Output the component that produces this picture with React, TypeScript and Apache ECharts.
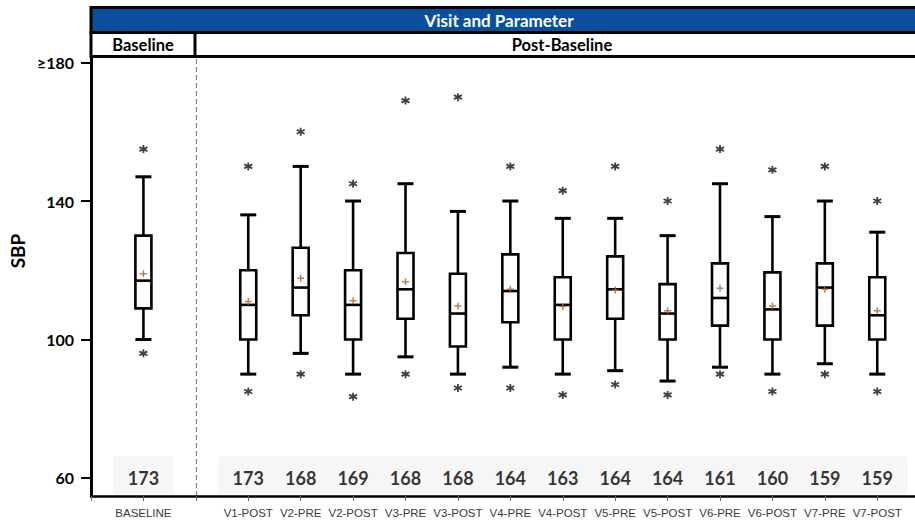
import React, { useEffect, useRef } from "react";
import * as echarts from "echarts";

const visits = ["BASELINE", "V1-POST", "V2-PRE", "V2-POST", "V3-PRE", "V3-POST", "V4-PRE", "V4-POST", "V5-PRE", "V5-POST", "V6-PRE", "V6-POST", "V7-PRE", "V7-POST"];
const whiskerLow = [100, 90, 96, 90, 95, 90, 92, 90, 91, 88, 92, 90, 93, 90];
const q1 = [109, 100, 107, 100, 106, 98, 105, 100, 106, 100, 104, 100, 104, 100];
const median = [117, 110, 115, 110, 114.5, 107.5, 114, 110, 114.5, 107.5, 112, 108.7, 115, 107];
const q3 = [130, 120, 126.5, 120, 125, 119, 124.6, 118, 124, 116, 122, 119.4, 122, 118];
const whiskerHigh = [147, 136, 150, 140, 145, 137, 140, 135, 135, 130, 145, 135.5, 140, 131];
const means = [119, 111, 117.7, 111.2, 116.7, 109.7, 114.5, 109.5, 114.3, 108.3, 114.8, 109.7, 114.5, 108.3];
const outHigh = [155, 150, 160, 145, 169, 170, 150, 143, 150, 140, 155, 149, 150, 140];
const outLow = [96, 85, 90, 83.5, 90, 86, 86, 84, 87, 84, 90, 85, 90, 85];
const counts = [173, 173, 168, 169, 168, 168, 164, 163, 164, 164, 161, 160, 159, 159];
const yTicks = [60, 100, 140, 180];
const yTickLabels = ["60", "100", "140", "\u2265180"];

// slot on the x scale: baseline at 1, an empty slot at 2 (separator), post-baseline visits from 3
const slotOf = (i: number) => (i === 0 ? 1 : i + 2);

const Y_MIN = 54.8;
const Y_MAX = 181.6;
const X_MAX = 15.72;

export default function App() {
  const ref = useRef<HTMLDivElement>(null);
  useEffect(() => {
    if (!ref.current) return;
    const chart = echarts.init(ref.current, null, { renderer: "svg" });
    const FONT = "Lato, 'Open Sans', sans-serif";

    const boxData = visits.map((_, i) => [slotOf(i), whiskerLow[i], q1[i], median[i], q3[i], whiskerHigh[i]]);
    const outData: number[][] = [];
    visits.forEach((_, i) => {
      outData.push([slotOf(i), outHigh[i]]);
      outData.push([slotOf(i), outLow[i]]);
    });
    const meanData = visits.map((_, i) => [slotOf(i), means[i]]);
    const countData = visits.map((_, i) => [slotOf(i), 60, counts[i]]);
    const labelMap: Record<number, string> = {};
    visits.forEach((v, i) => (labelMap[slotOf(i)] = v));

    const option: any = {
      animation: false,
      grid: { left: 91, top: 57, width: 824, height: 439, containLabel: false },
      xAxis: {
        type: "value",
        min: 0,
        max: X_MAX,
        z: 10,
        axisLine: { show: true, lineStyle: { color: "#000", width: 2.5 } },
        axisTick: { show: true, length: 5, lineStyle: { color: "#666", width: 1 }, customValues: Array.from({ length: 16 }, (_, k) => k) },
        axisLabel: {
          show: true,
          customValues: visits.map((_, i) => slotOf(i)),
          formatter: (v: number) => labelMap[Math.round(v)] || "",
          fontFamily: "'Liberation Sans', Arial, sans-serif",
          fontSize: 11.5,
          color: "#3a3a3a",
          margin: 11,
        },
        splitLine: { show: false },
      },
      yAxis: {
        type: "value",
        min: Y_MIN,
        max: Y_MAX,
        z: 10,
        axisLine: { show: true, lineStyle: { color: "#000", width: 3 } },
        axisTick: { show: true, length: 10, lineStyle: { color: "#000", width: 2 }, customValues: yTicks },
        axisLabel: {
          show: true,
          customValues: yTicks,
          formatter: (v: number) => yTickLabels[yTicks.indexOf(v)] ?? "",
          fontFamily: FONT,
          fontWeight: "bold",
          fontSize: 16,
          color: "#000",
          margin: 17,
        },
        splitLine: { show: false },
      },
      graphic: [
        { type: "rect", shape: { x: 91, y: 7.5, width: 850, height: 25 }, style: { fill: "#0a4f9c", stroke: "#000", lineWidth: 3 }, z: 10 },
        { type: "rect", shape: { x: 91, y: 32.5, width: 850, height: 24 }, style: { fill: "#fff", stroke: "#000", lineWidth: 3 }, z: 10 },
        { type: "line", shape: { x1: 195, y1: 32.5, x2: 195, y2: 56.5 }, style: { stroke: "#000", lineWidth: 3 }, z: 11 },
        { type: "text", x: 499, y: 20.5, style: { text: "Visit and Parameter", fill: "#fff", font: `bold 17px ${FONT}`, textAlign: "center", textVerticalAlign: "middle" }, z: 12 },
        { type: "text", x: 143, y: 45, style: { text: "Baseline", fill: "#000", font: `bold 16.5px ${FONT}`, textAlign: "center", textVerticalAlign: "middle" }, z: 12 },
        { type: "text", x: 562, y: 45, style: { text: "Post-Baseline", fill: "#000", font: `bold 16.5px ${FONT}`, textAlign: "center", textVerticalAlign: "middle" }, z: 12 },
        { type: "text", x: 17.5, y: 251, rotation: Math.PI / 2, style: { text: "SBP", fill: "#000", font: `bold 19px ${FONT}`, textAlign: "center", textVerticalAlign: "middle" }, z: 12 },
      ],
      series: [
        {
          type: "scatter",
          name: "counts",
          data: countData,
          symbolSize: 0,
          z: 3,
          label: {
            show: true,
            position: "inside",
            formatter: (p: any) => String(p.value[2]),
            fontFamily: FONT,
            fontWeight: "bold",
            fontSize: 18,
            color: "#000",
          },
          markArea: {
            silent: true,
            z: 1,
            itemStyle: { color: "#f6f6f6" },
            data: [
              [{ xAxis: slotOf(0) - 0.58, yAxis: 55.4 }, { xAxis: slotOf(0) + 0.58, yAxis: 66.3 }],
              [{ xAxis: slotOf(1) - 0.58, yAxis: 55.4 }, { xAxis: slotOf(visits.length - 1) + 0.58, yAxis: 66.3 }],
            ],
          },
          markLine: {
            silent: true,
            symbol: ["none", "none"],
            label: { show: false },
            lineStyle: { type: [5, 3], color: "#8c8c8c", width: 1.3 },
            data: [{ xAxis: 2 }],
          },
        },
        {
          type: "custom",
          name: "box",
          data: boxData,
          encode: { x: 0, y: [1, 2, 3, 4, 5] },
          z: 5,
          renderItem: (params: any, api: any) => {
            const x = api.value(0);
            const pLow = api.coord([x, api.value(1)]);
            const pQ1 = api.coord([x, api.value(2)]);
            const pMed = api.coord([x, api.value(3)]);
            const pQ3 = api.coord([x, api.value(4)]);
            const pHigh = api.coord([x, api.value(5)]);
            const c = pLow[0];
            const hw = 8;
            const st = { stroke: "#000", lineWidth: 2.6 };
            return {
              type: "group",
              children: [
                { type: "line", shape: { x1: c, y1: pHigh[1], x2: c, y2: pQ3[1] }, style: st },
                { type: "line", shape: { x1: c, y1: pQ1[1], x2: c, y2: pLow[1] }, style: st },
                { type: "line", shape: { x1: c - hw, y1: pHigh[1], x2: c + hw, y2: pHigh[1] }, style: { stroke: "#000", lineWidth: 3 } },
                { type: "line", shape: { x1: c - hw, y1: pLow[1], x2: c + hw, y2: pLow[1] }, style: { stroke: "#000", lineWidth: 3 } },
                { type: "rect", shape: { x: c - hw, y: pQ3[1], width: 2 * hw, height: pQ1[1] - pQ3[1] }, style: { fill: "#fff", stroke: "#000", lineWidth: 2.6 } },
                { type: "line", shape: { x1: c - hw, y1: pMed[1], x2: c + hw, y2: pMed[1] }, style: st },
              ],
            };
          },
        },
        {
          type: "scatter",
          name: "outliers",
          data: outData,
          z: 6,
          symbol: "path://M5,0L5,10M0.7,2.5L9.3,7.5M0.7,7.5L9.3,2.5",
          symbolSize: 8,
          itemStyle: { color: "none", borderColor: "#111", borderWidth: 1.8 },
        },
        {
          type: "scatter",
          name: "mean",
          data: meanData,
          z: 7,
          symbol: "path://M0,5L10,5M5,0L5,10",
          symbolSize: 7,
          itemStyle: { color: "none", borderColor: "#a8632a", borderWidth: 1.5 },
        },
      ],
    };
    chart.setOption(option);
    return () => chart.dispose();
  }, []);
  return <div ref={ref} style={{ position: "fixed", left: 0, top: 0, width: 915, height: 522, background: "#fff" }} />;
}
